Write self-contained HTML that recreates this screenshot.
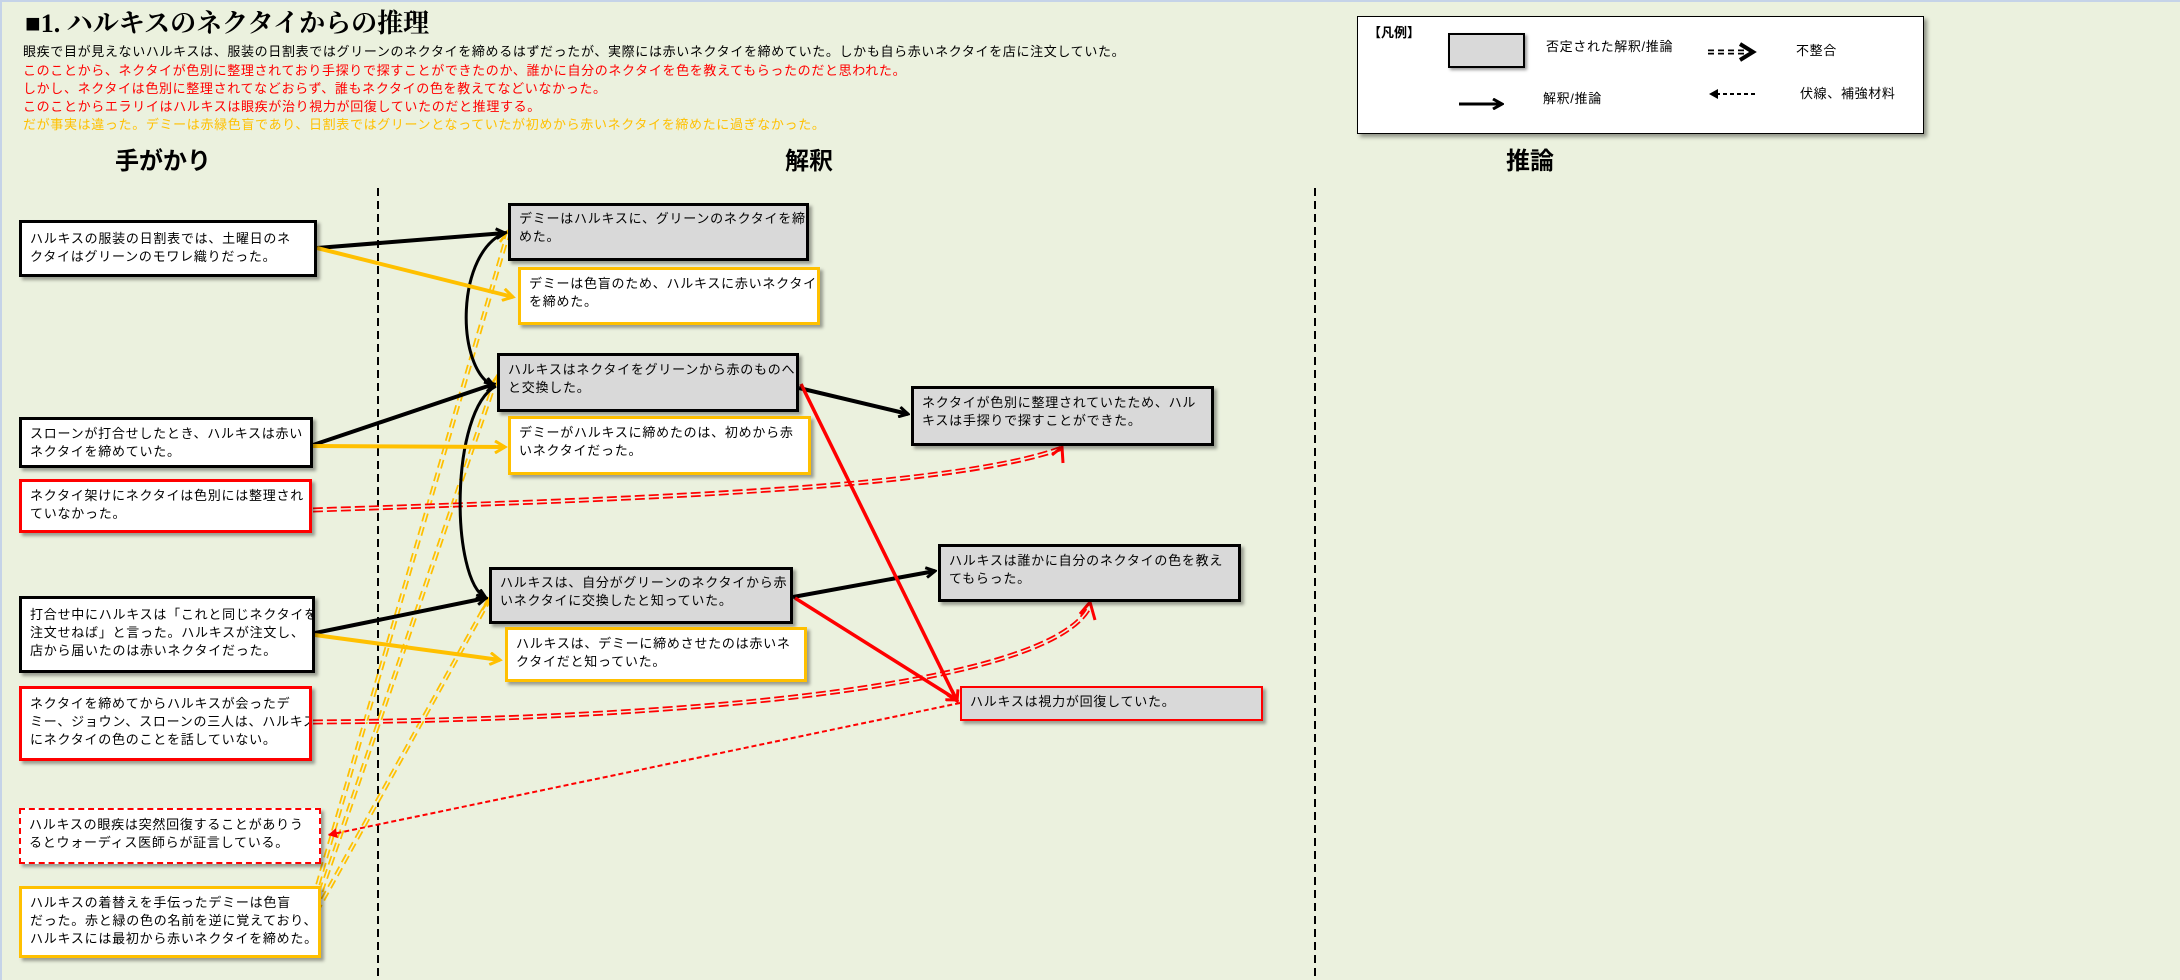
<!DOCTYPE html>
<html><head><meta charset="utf-8"><style>
body{margin:0;width:2180px;height:980px;background:#EBF1DE;overflow:hidden;position:relative;font-family:"Liberation Sans","Noto Sans CJK JP",sans-serif;}
.t{position:absolute;white-space:nowrap;font-size:13px;line-height:18px;letter-spacing:0.65px;}
.b{position:absolute;box-sizing:border-box;border:3px solid #000;background:#fff;padding:7px 8px;font-size:13px;line-height:18px;letter-spacing:0.75px;white-space:nowrap;overflow:hidden;box-shadow:3px 3px 3px rgba(0,0,0,.35);color:#000;}
.g{background:#D9D9D9;}
.o{border-color:#FFC000;}
.r{border-color:#FF0000;}
.d{border:2px dashed #FF0000;}
.h{position:absolute;font-size:24px;font-weight:bold;}
</style></head><body>
<div style="position:absolute;left:0;top:0;width:2180px;height:2px;background:#C5D3E8"></div>
<div style="position:absolute;left:0;top:0;width:2px;height:980px;background:#C5D3E8"></div>
<div class="t" style="left:25px;top:8px;font-size:26px;line-height:32px;font-weight:bold;letter-spacing:0;font-family:'Liberation Serif','Noto Serif CJK SC',serif;">■1. ハルキスのネクタイからの推理</div>
<div class="t" style="left:23px;top:43px;">眼疾で目が見えないハルキスは、服装の日割表ではグリーンのネクタイを締めるはずだったが、実際には赤いネクタイを締めていた。しかも自ら赤いネクタイを店に注文していた。</div>
<div class="t" style="left:23px;top:62px;color:#f00;">このことから、ネクタイが色別に整理されており手探りで探すことができたのか、誰かに自分のネクタイを色を教えてもらったのだと思われた。</div>
<div class="t" style="left:23px;top:80px;color:#f00;">しかし、ネクタイは色別に整理されてなどおらず、誰もネクタイの色を教えてなどいなかった。</div>
<div class="t" style="left:23px;top:98px;color:#f00;">このことからエラリイはハルキスは眼疾が治り視力が回復していたのだと推理する。</div>
<div class="t" style="left:23px;top:116px;color:#FFC000;">だが事実は違った。デミーは赤緑色盲であり、日割表ではグリーンとなっていたが初めから赤いネクタイを締めたに過ぎなかった。</div>
<div class="h" style="left:115px;top:141px;">手がかり</div>
<div class="h" style="left:785px;top:141px;">解釈</div>
<div class="h" style="left:1506px;top:141px;">推論</div>

<div style="position:absolute;left:1357px;top:16px;width:567px;height:118px;box-sizing:border-box;border:1px solid #000;background:#fff;box-shadow:3px 3px 4px rgba(0,0,0,.4);"></div>
<div class="t" style="left:1368px;top:24px;font-weight:bold;letter-spacing:0;">【凡例】</div>
<div style="position:absolute;left:1448px;top:33px;width:77px;height:35px;box-sizing:border-box;border:2px solid #000;background:#D9D9D9;box-shadow:2px 2px 3px rgba(0,0,0,.4);"></div>
<div class="t" style="left:1546px;top:38px;">否定された解釈/推論</div>
<div class="t" style="left:1796px;top:42px;">不整合</div>
<div class="t" style="left:1543px;top:90px;">解釈/推論</div>
<div class="t" style="left:1800px;top:85px;">伏線、補強材料</div>

<svg width="2180" height="980" style="position:absolute;left:0;top:0" xmlns="http://www.w3.org/2000/svg">
<defs>
<marker id="ak" markerWidth="12" markerHeight="12" refX="10" refY="6" orient="auto" markerUnits="userSpaceOnUse"><path d="M1,1 L10,6 L1,11" fill="none" stroke="#000" stroke-width="3"/></marker>
<marker id="ao" markerWidth="14" markerHeight="14" refX="11" refY="7" orient="auto" markerUnits="userSpaceOnUse"><path d="M1,1 L11,7 L1,13" fill="none" stroke="#FFC000" stroke-width="3"/></marker>
<marker id="ar" markerWidth="14" markerHeight="14" refX="11" refY="7" orient="auto" markerUnits="userSpaceOnUse"><path d="M1,1 L11,7 L1,13" fill="none" stroke="#f00" stroke-width="3"/></marker>
<marker id="arf" markerWidth="12" markerHeight="12" refX="10" refY="6" orient="auto" markerUnits="userSpaceOnUse"><path d="M1,1 L10,6 L1,11 z" fill="#f00"/></marker>
</defs>
<line x1="378" y1="188" x2="378" y2="980" stroke="#000" stroke-width="2" stroke-dasharray="8,5"/>
<line x1="1315" y1="188" x2="1315" y2="980" stroke="#000" stroke-width="2" stroke-dasharray="8,5"/>
<line x1="1708" y1="52" x2="1746" y2="52" stroke="#000" stroke-width="5" stroke-dasharray="6,4"/>
<line x1="1708" y1="52" x2="1746" y2="52" stroke="#fff" stroke-width="1.5"/>
<path d="M1740,44 L1753,52 L1740,60" fill="none" stroke="#000" stroke-width="4"/>
<line x1="1459" y1="104" x2="1502" y2="104" stroke="#000" stroke-width="3" marker-end="url(#ak)"/>
<line x1="1755" y1="94" x2="1711" y2="94" stroke="#000" stroke-width="2" stroke-dasharray="4,3"/>
<path d="M1718,89 L1709,94 L1718,99 z" fill="#000"/>

<g fill="none" stroke="#FFC000" stroke-width="5" stroke-dasharray="9,5">
<path d="M306,925 L509,230"/><path d="M312,918 L497,376"/><path d="M316,912 L490,598"/>
</g>
<g fill="none" stroke="#EBF1DE" stroke-width="1.5">
<path d="M306,925 L509,230"/><path d="M312,918 L497,376"/><path d="M316,912 L490,598"/>
</g>
<g fill="none" stroke="#FFC000" stroke-width="2.5">
<path d="M500,242 L509,230 L511,248"/><path d="M489,388 L497,376 L499,395"/><path d="M482,610 L490,598 L492,617"/>
</g>
<g fill="none" stroke="#f00" stroke-width="5" stroke-dasharray="10,4">
<path d="M313,510 C600,500 950,490 1062,448"/>
<path d="M313,722 C650,720 1050,690 1090,606"/>
</g>
<g fill="none" stroke="#EBF1DE" stroke-width="1.5">
<path d="M313,510 C600,500 950,490 1062,448"/>
<path d="M313,722 C650,720 1050,690 1090,606"/>
</g>
<g fill="none" stroke="#f00" stroke-width="3">
<path d="M1052,455 L1062,447 L1063,463"/><path d="M1080,614 L1090,602 L1095,620"/>
</g>
<line x1="960" y1="703" x2="328" y2="835" stroke="#f00" stroke-width="2" stroke-dasharray="5,3" marker-end="url(#arf)"/>
<g stroke="#000" stroke-width="4" fill="none">
<line x1="317" y1="248" x2="505" y2="233" marker-end="url(#ak)"/>
<line x1="313" y1="445" x2="494" y2="384" marker-end="url(#ak)"/>
<line x1="315" y1="633" x2="486" y2="598" marker-end="url(#ak)"/>
<line x1="799" y1="388" x2="908" y2="414" marker-end="url(#ak)"/>
<line x1="793" y1="597" x2="935" y2="571" marker-end="url(#ak)"/>
<path d="M507,232 C455,250 455,370 494,386" stroke-width="3" marker-end="url(#ak)"/>
<path d="M496,386 C450,410 450,580 486,598" stroke-width="3" marker-end="url(#ak)"/>
</g>
<g stroke="#FFC000" stroke-width="4" fill="none">
<line x1="317" y1="248" x2="513" y2="297" marker-end="url(#ao)"/>
<line x1="313" y1="446" x2="505" y2="447" marker-end="url(#ao)"/>
<line x1="315" y1="635" x2="500" y2="660" marker-end="url(#ao)"/>
</g>
<g stroke="#f00" stroke-width="3.5" fill="none">
<line x1="801" y1="384" x2="957" y2="701" marker-end="url(#ar)"/>
<line x1="795" y1="598" x2="957" y2="700" marker-end="url(#ar)"/>
</g>
</svg>

<div class="b" style="left:19px;top:220px;width:298px;height:57px;">ハルキスの服装の日割表では、土曜日のネ<br>クタイはグリーンのモワレ織りだった。</div>
<div class="b" style="left:19px;top:417px;width:294px;height:51px;padding-top:5px;">スローンが打合せしたとき、ハルキスは赤い<br>ネクタイを締めていた。</div>
<div class="b r" style="left:19px;top:479px;width:293px;height:54px;padding-top:5px;">ネクタイ架けにネクタイは色別には整理され<br>ていなかった。</div>
<div class="b" style="left:19px;top:596px;width:296px;height:77px;">打合せ中にハルキスは「これと同じネクタイを<br>注文せねば」と言った。ハルキスが注文し、<br>店から届いたのは赤いネクタイだった。</div>
<div class="b r" style="left:19px;top:686px;width:293px;height:75px;padding-top:6px;">ネクタイを締めてからハルキスが会ったデ<br>ミー、ジョウン、スローンの三人は、ハルキス<br>にネクタイの色のことを話していない。</div>
<div class="b d" style="left:19px;top:808px;width:302px;height:56px;padding-top:6px;">ハルキスの眼疾は突然回復することがありう<br>るとウォーディス医師らが証言している。</div>
<div class="b o" style="left:19px;top:886px;width:302px;height:72px;padding-top:5px;">ハルキスの着替えを手伝ったデミーは色盲<br>だった。赤と緑の色の名前を逆に覚えており、<br>ハルキスには最初から赤いネクタイを締めた。</div>

<div class="b g" style="left:508px;top:203px;width:301px;height:58px;padding-top:4px;">デミーはハルキスに、グリーンのネクタイを締<br>めた。</div>
<div class="b o" style="left:518px;top:267px;width:302px;height:58px;padding-top:5px;">デミーは色盲のため、ハルキスに赤いネクタイ<br>を締めた。</div>
<div class="b g" style="left:497px;top:353px;width:302px;height:59px;padding-top:5px;">ハルキスはネクタイをグリーンから赤のものへ<br>と交換した。</div>
<div class="b o" style="left:508px;top:416px;width:303px;height:59px;padding-top:5px;">デミーがハルキスに締めたのは、初めから赤<br>いネクタイだった。</div>
<div class="b g" style="left:489px;top:567px;width:304px;height:57px;padding-top:4px;">ハルキスは、自分がグリーンのネクタイから赤<br>いネクタイに交換したと知っていた。</div>
<div class="b o" style="left:505px;top:627px;width:302px;height:55px;padding-top:5px;">ハルキスは、デミーに締めさせたのは赤いネ<br>クタイだと知っていた。</div>

<div class="b g" style="left:911px;top:386px;width:303px;height:60px;padding-top:5px;">ネクタイが色別に整理されていたため、ハル<br>キスは手探りで探すことができた。</div>
<div class="b g" style="left:938px;top:544px;width:303px;height:58px;padding-top:5px;">ハルキスは誰かに自分のネクタイの色を教え<br>てもらった。</div>
<div class="b g r" style="left:960px;top:686px;width:303px;height:35px;padding-top:5px;border-width:2px;">ハルキスは視力が回復していた。</div>
</body></html>
